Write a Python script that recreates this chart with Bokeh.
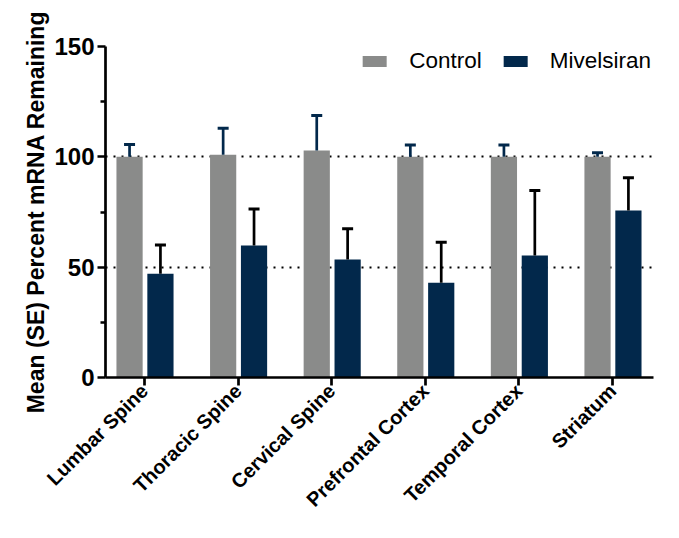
from math import pi
from bokeh.plotting import figure
from bokeh.models import (Range1d, FixedTicker, Legend, LegendItem, Whisker,
                          TeeHead, ColumnDataSource)
from bokeh.embed import file_html
from bokeh.resources import INLINE

regions = ["Lumbar Spine", "Thoracic Spine", "Cervical Spine",
           "Prefrontal Cortex", "Temporal Cortex", "Striatum"]
control_mean = [100.0, 101.0, 102.9, 100.0, 100.0, 100.0]
control_upper = [105.6, 113.0, 118.7, 105.4, 105.4, 101.8]
miv_mean = [47.0, 59.8, 53.5, 42.9, 55.3, 75.7]
miv_upper = [60.1, 76.4, 67.4, 61.3, 84.7, 90.5]
y_ticks = [0, 50, 100, 150]
y_minor = [25, 75, 125]
ref_lines = [50, 100]

GRAY = "#8a8b8a"
NAVY = "#02284b"
FONT = "Liberation Sans"

idx = list(range(len(regions)))
c_src = ColumnDataSource(dict(x=[i - 0.16 for i in idx], top=control_mean,
                              upper=control_upper))
m_src = ColumnDataSource(dict(x=[i + 0.17 for i in idx], top=miv_mean,
                              upper=miv_upper))

p = figure(width=663, height=522, output_backend="svg", toolbar_location=None,
           x_range=Range1d(-0.417, 5.438), y_range=Range1d(0, 150),
           min_border_left=105, min_border_right=10, min_border_top=46,
           min_border_bottom=145)
p.outline_line_color = None
p.background_fill_color = "white"

r1 = p.vbar(x="x", top="top", width=0.28, source=c_src, fill_color=GRAY,
            line_color=None)
r2 = p.vbar(x="x", top="top", width=0.28, source=m_src, fill_color=NAVY,
            line_color=None)

for src, col in ((c_src, NAVY), (m_src, "black")):
    w = Whisker(source=src, base="x", upper="upper", lower="top",
                dimension="height", line_color=col, line_width=2.7,
                upper_head=TeeHead(size=11, line_color=col, line_width=3),
                lower_head=None, level="glyph")
    p.add_layout(w)

# axes
p.xaxis.ticker = FixedTicker(ticks=idx)
p.xaxis.major_label_overrides = {i: r for i, r in zip(idx, regions)}
p.xaxis.major_label_orientation = pi / 4
p.xaxis.major_label_text_font = FONT
p.xaxis.major_label_text_font_style = "bold"
p.xaxis.major_label_text_font_size = "20px"
p.xaxis.major_label_text_color = "black"
p.xaxis.major_label_standoff = 2
p.xaxis.major_tick_in = 0
p.xaxis.major_tick_out = 8
p.xaxis.minor_tick_out = 0
p.xaxis.minor_tick_in = 0

p.yaxis.ticker = FixedTicker(ticks=y_ticks, minor_ticks=y_minor)
p.yaxis.major_label_text_font = FONT
p.yaxis.major_label_text_font_style = "bold"
p.yaxis.major_label_text_font_size = "24px"
p.yaxis.major_label_text_color = "black"
p.yaxis.major_label_standoff = 3
p.yaxis.major_tick_in = 0
p.yaxis.major_tick_out = 8
p.yaxis.minor_tick_in = 0
p.yaxis.minor_tick_out = 5
p.yaxis.axis_label = "Mean (SE) Percent mRNA Remaining"
p.yaxis.axis_label_text_font = FONT
p.yaxis.axis_label_text_font_style = "bold"
p.yaxis.axis_label_text_font_size = "23px"
p.yaxis.axis_label_text_color = "black"
p.yaxis.axis_label_standoff = 2

for ax in (p.xaxis, p.yaxis):
    ax.axis_line_width = 2.7
    ax.axis_line_color = "black"
    ax.major_tick_line_width = 2.7
    ax.major_tick_line_color = "black"
    ax.minor_tick_line_width = 2.7
    ax.minor_tick_line_color = "black"

p.xgrid.visible = False
p.ygrid.ticker = FixedTicker(ticks=ref_lines)
p.ygrid.grid_line_color = "black"
p.ygrid.grid_line_width = 2
p.ygrid.grid_line_dash = "2 6"

legend = Legend(items=[LegendItem(label="Control", renderers=[r1]),
                       LegendItem(label="Mivelsiran", renderers=[r2])],
                orientation="horizontal", location="top_right",
                glyph_width=30, glyph_height=14, label_standoff=20,
                spacing=18, padding=0, margin=2,
                label_text_font=FONT, label_text_font_size="22.5px",
                label_text_color="black",
                border_line_color=None, background_fill_alpha=0)
p.add_layout(legend)

open("out.html", "w").write(file_html(p, INLINE))
